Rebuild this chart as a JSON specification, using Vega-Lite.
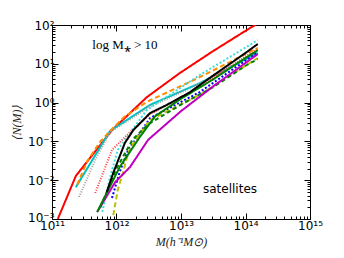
{
  "$schema": "https://vega.github.io/schema/vega-lite/v6.json",
  "autosize": {"type": "none"},
  "width": 258,
  "height": 194,
  "padding": {"left": 52, "top": 25, "right": 34, "bottom": 39},
  "background": "white",
  "config": {"view": {"stroke": null}, "axis": {"grid": false}},
  "datasets": {
    "lines": [
      {"s": "red", "m": 1.23e11, "n": 1e-3},
      {"s": "red", "m": 2.344e11, "n": 1.288e-2},
      {"s": "red", "m": 8.511e11, "n": 0.195},
      {"s": "red", "m": 2.951e12, "n": 1.38},
      {"s": "red", "m": 9.55e12, "n": 5.754},
      {"s": "red", "m": 3.162e13, "n": 21.4},
      {"s": "red", "m": 1e14, "n": 70.8},
      {"s": "red", "m": 1.995e14, "n": 141},

      {"s": "cyan", "m": 2.344e11, "n": 6.607e-3},
      {"s": "cyan", "m": 7.943e11, "n": 0.1862},
      {"s": "cyan", "m": 3.311e12, "n": 0.871},
      {"s": "cyan", "m": 1.95e13, "n": 3.162},
      {"s": "cyan", "m": 1.549e14, "n": 19.05},

      {"s": "grey", "m": 2.63e11, "n": 3.715e-3},
      {"s": "grey", "m": 4.677e11, "n": 3.311e-2},
      {"s": "grey", "m": 7.943e11, "n": 0.1738},
      {"s": "grey", "m": 3.311e12, "n": 0.794},
      {"s": "grey", "m": 1.95e13, "n": 3.02},
      {"s": "grey", "m": 1.549e14, "n": 22.39},

      {"s": "reddot", "m": 4.677e11, "n": 4.677e-3},
      {"s": "reddot", "m": 8.511e11, "n": 6.026e-2},
      {"s": "reddot", "m": 1.622e12, "n": 0.1738},
      {"s": "reddot", "m": 3.311e12, "n": 0.501},
      {"s": "reddot", "m": 1.95e13, "n": 2.512},
      {"s": "reddot", "m": 1.549e14, "n": 25.12},

      {"s": "orange", "m": 2.455e11, "n": 7.586e-3},
      {"s": "orange", "m": 3.548e11, "n": 3.162e-2},
      {"s": "orange", "m": 5.623e11, "n": 0.1},
      {"s": "orange", "m": 8.913e11, "n": 0.2239},
      {"s": "orange", "m": 1.318e12, "n": 0.4266},
      {"s": "orange", "m": 2.951e12, "n": 1.047},
      {"s": "orange", "m": 1.82e13, "n": 4.266},
      {"s": "orange", "m": 1.549e14, "n": 25.7},

      {"s": "cyandot", "m": 6.026e11, "n": 1.514e-3},
      {"s": "cyandot", "m": 7.943e11, "n": 1.202e-2},
      {"s": "cyandot", "m": 1.047e12, "n": 6.026e-2},
      {"s": "cyandot", "m": 1.738e12, "n": 0.195},
      {"s": "cyandot", "m": 2.951e12, "n": 0.6457},
      {"s": "cyandot", "m": 1.95e13, "n": 5.129},
      {"s": "cyandot", "m": 1.549e14, "n": 40.74},

      {"s": "blue", "m": 8.511e11, "n": 3.467e-3},
      {"s": "blue", "m": 1.122e12, "n": 1.622e-2},
      {"s": "blue", "m": 1.514e12, "n": 6.026e-2},
      {"s": "blue", "m": 2.089e12, "n": 0.1288},
      {"s": "blue", "m": 3.311e12, "n": 0.3981},
      {"s": "blue", "m": 1.95e13, "n": 1.862},
      {"s": "blue", "m": 1.549e14, "n": 19.95},

      {"s": "yellow", "m": 8.913e11, "n": 1.259e-3},
      {"s": "yellow", "m": 1.047e12, "n": 5.623e-3},
      {"s": "yellow", "m": 1.259e12, "n": 1.549e-2},
      {"s": "yellow", "m": 1.514e12, "n": 5.012e-2},
      {"s": "yellow", "m": 1.95e12, "n": 0.1096},
      {"s": "yellow", "m": 3.311e12, "n": 0.3548},
      {"s": "yellow", "m": 1.95e13, "n": 1.585},
      {"s": "yellow", "m": 1.549e14, "n": 14.13},

      {"s": "greendash", "m": 5.623e11, "n": 1.995e-3},
      {"s": "greendash", "m": 1e12, "n": 1.995e-2},
      {"s": "greendash", "m": 1.778e12, "n": 0.1122},
      {"s": "greendash", "m": 3.162e12, "n": 0.2818},
      {"s": "greendash", "m": 1e13, "n": 0.8913},
      {"s": "greendash", "m": 3.162e13, "n": 2.512},
      {"s": "greendash", "m": 1e14, "n": 8.913},
      {"s": "greendash", "m": 1.549e14, "n": 13.18},

      {"s": "magenta", "m": 5.012e11, "n": 1.514e-3},
      {"s": "magenta", "m": 9.55e11, "n": 8.913e-3},
      {"s": "magenta", "m": 1.622e12, "n": 2.188e-2},
      {"s": "magenta", "m": 3.09e12, "n": 0.1096},
      {"s": "magenta", "m": 1e13, "n": 0.6026},
      {"s": "magenta", "m": 3.162e13, "n": 2.63},
      {"s": "magenta", "m": 1.549e14, "n": 17.78},

      {"s": "green", "m": 5.012e11, "n": 1.514e-3},
      {"s": "green", "m": 1.122e12, "n": 2.188e-2},
      {"s": "green", "m": 2.291e12, "n": 0.1288},
      {"s": "green", "m": 3.981e12, "n": 0.447},
      {"s": "green", "m": 1e13, "n": 1.259},
      {"s": "green", "m": 3.162e13, "n": 3.981},
      {"s": "green", "m": 1e14, "n": 14.13},
      {"s": "green", "m": 1.549e14, "n": 22.39},

      {"s": "black", "m": 7.079e11, "n": 5.012e-3},
      {"s": "black", "m": 8.913e11, "n": 1.549e-2},
      {"s": "black", "m": 1.349e12, "n": 9.12e-2},
      {"s": "black", "m": 1.82e12, "n": 0.195},
      {"s": "black", "m": 3.311e12, "n": 0.537},
      {"s": "black", "m": 6.026e12, "n": 0.871},
      {"s": "black", "m": 1.38e13, "n": 1.862},
      {"s": "black", "m": 3.162e13, "n": 5.012},
      {"s": "black", "m": 1e14, "n": 19.05},
      {"s": "black", "m": 1.549e14, "n": 32.36}
    ],
    "serifLabels": [
      {"m": 1.35e12, "n": 30, "t": "log M⁎ > 10"}
    ],
    "sansLabels": [
      {"m": 5.75e13, "n": 5.9e-3, "t": "satellites"}
    ]
  },
  "layer": [
    {
      "data": {"name": "lines"},
      "mark": {"type": "line", "clip": true},
      "encoding": {
        "x": {
          "field": "m", "type": "quantitative",
          "scale": {"type": "log", "domain": [1e11, 1e15], "nice": false},
          "axis": {
            "orient": "bottom",
            "title": "M(h⁻¹M⊙)",
            "titleFont": "Liberation Serif", "titleFontStyle": "italic", "titleFontWeight": "normal", "titleFontSize": 12, "titleColor": "#222", "titlePadding": 2,
            "values": [1e11,2e11,3e11,4e11,5e11,6e11,7e11,8e11,9e11,1e12,2e12,3e12,4e12,5e12,6e12,7e12,8e12,9e12,1e13,2e13,3e13,4e13,5e13,6e13,7e13,8e13,9e13,1e14,2e14,3e14,4e14,5e14,6e14,7e14,8e14,9e14,1e15],
            "labelExpr": "datum.value == 1e11 ? '10¹¹' : datum.value == 1e12 ? '10¹²' : datum.value == 1e13 ? '10¹³' : datum.value == 1e14 ? '10¹⁴' : datum.value == 1e15 ? '10¹⁵' : ''",
            "labelFont": "DejaVu Sans", "labelFontSize": 12, "labelColor": "black", "labelPadding": 7, "labelFlush": false, "labelOverlap": false,
            "domainColor": "black", "tickColor": "black", "tickWidth": 1,
            "tickSize": {"condition": {"test": "datum.value == 1e11 || datum.value == 1e12 || datum.value == 1e13 || datum.value == 1e14 || datum.value == 1e15", "value": -6}, "value": -3}
          }
        },
        "y": {
          "field": "n", "type": "quantitative",
          "scale": {"type": "log", "domain": [1e-3, 1e2], "nice": false},
          "axis": {
            "orient": "left",
            "title": "⟨N(M)⟩",
            "titleFont": "Liberation Serif", "titleFontStyle": "italic", "titleFontWeight": "normal", "titleFontSize": 12, "titleColor": "#222", "titlePadding": 4,
            "values": [1e-3,2e-3,3e-3,4e-3,5e-3,6e-3,7e-3,8e-3,9e-3,1e-2,2e-2,3e-2,4e-2,5e-2,6e-2,7e-2,8e-2,9e-2,0.1,0.2,0.3,0.4,0.5,0.6,0.7,0.8,0.9,1,2,3,4,5,6,7,8,9,10,20,30,40,50,60,70,80,90,100],
            "labelExpr": "datum.value == 1e-3 ? '10⁻³' : datum.value == 1e-2 ? '10⁻²' : datum.value == 0.1 ? '10⁻¹' : datum.value == 1 ? '10⁰' : datum.value == 10 ? '10¹' : datum.value == 100 ? '10²' : ''",
            "labelFont": "DejaVu Sans", "labelFontSize": 12, "labelColor": "black", "labelPadding": 4, "labelFlush": false, "labelOverlap": false,
            "labelOffset": {"condition": {"test": "datum.value == 1e-3", "value": -2}, "value": 0},
            "domainColor": "black", "tickColor": "black", "tickWidth": 1,
            "tickSize": {"condition": {"test": "datum.value == 1e-3 || datum.value == 1e-2 || datum.value == 0.1 || datum.value == 1 || datum.value == 10 || datum.value == 100", "value": -6}, "value": -3}
          }
        },
        "color": {
          "field": "s", "type": "nominal", "legend": null,
          "scale": {
            "domain": ["red","cyan","grey","reddot","orange","cyandot","blue","yellow","greendash","magenta","green","black"],
            "range": ["#ff0000","#00bfbf","#a0a0a0","#ff4040","#ff8c00","#40dcdc","#0000ff","#bfbf00","#008000","#bf00bf","#008000","#000000"]
          }
        },
        "strokeDash": {
          "field": "s", "type": "nominal", "legend": null,
          "scale": {
            "domain": ["red","cyan","grey","reddot","orange","cyandot","blue","yellow","greendash","magenta","green","black"],
            "range": [[1,0],[1,0],[1,1.5],[1,1.5],[5,3],[2,2],[2,2],[5,3],[4,3],[1,0],[1,0],[1,0]]
          }
        },
        "strokeWidth": {
          "field": "s", "type": "nominal", "legend": null,
          "scale": {
            "domain": ["red","cyan","grey","reddot","orange","cyandot","blue","yellow","greendash","magenta","green","black"],
            "range": [2,2,1.5,1.2,2.5,2.5,2,2.5,2.5,2,2.5,2.5]
          }
        }
      }
    },
    {
      "encoding": {
        "x": {
          "field": "m", "type": "quantitative",
          "axis": {
            "orient": "top", "title": null, "labels": false,
            "values": [1e11,2e11,3e11,4e11,5e11,6e11,7e11,8e11,9e11,1e12,2e12,3e12,4e12,5e12,6e12,7e12,8e12,9e12,1e13,2e13,3e13,4e13,5e13,6e13,7e13,8e13,9e13,1e14,2e14,3e14,4e14,5e14,6e14,7e14,8e14,9e14,1e15],
            "domainColor": "black", "tickColor": "black", "tickWidth": 1,
            "tickSize": {"condition": {"test": "datum.value == 1e11 || datum.value == 1e12 || datum.value == 1e13 || datum.value == 1e14 || datum.value == 1e15", "value": -6}, "value": -3}
          }
        },
        "y": {
          "field": "n", "type": "quantitative",
          "axis": {
            "orient": "right", "title": null, "labels": false,
            "values": [1e-3,2e-3,3e-3,4e-3,5e-3,6e-3,7e-3,8e-3,9e-3,1e-2,2e-2,3e-2,4e-2,5e-2,6e-2,7e-2,8e-2,9e-2,0.1,0.2,0.3,0.4,0.5,0.6,0.7,0.8,0.9,1,2,3,4,5,6,7,8,9,10,20,30,40,50,60,70,80,90,100],
            "domainColor": "black", "tickColor": "black", "tickWidth": 1,
            "tickSize": {"condition": {"test": "datum.value == 1e-3 || datum.value == 1e-2 || datum.value == 0.1 || datum.value == 1 || datum.value == 10 || datum.value == 100", "value": -6}, "value": -3}
          }
        },
        "text": {"field": "t", "type": "nominal"}
      },
      "layer": [
        {
          "data": {"name": "serifLabels"},
          "mark": {"type": "text", "align": "center", "baseline": "middle", "fontSize": 13, "font": "Liberation Serif", "color": "black"}
        },
        {
          "data": {"name": "sansLabels"},
          "mark": {"type": "text", "align": "center", "baseline": "middle", "fontSize": 12, "font": "DejaVu Sans", "color": "black"}
        }
      ]
    }
  ],
  "resolve": {"axis": {"x": "independent", "y": "independent"}}
}
